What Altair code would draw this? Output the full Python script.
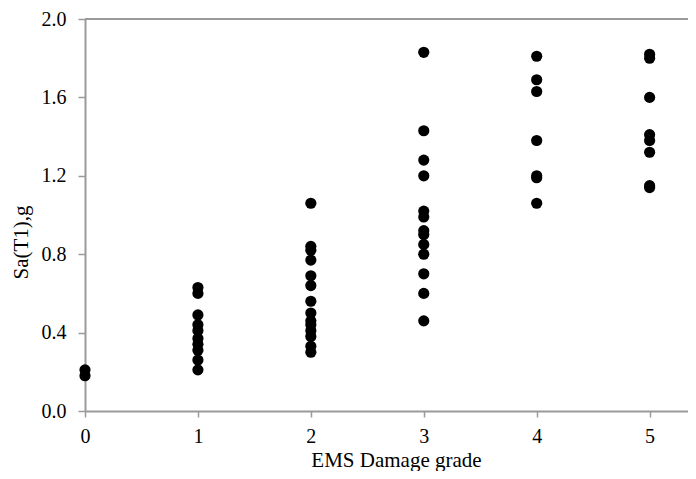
import altair as alt
import pandas as pd

grade0 = [0.21, 0.18]
grade1 = [0.63, 0.60, 0.49, 0.44, 0.41, 0.37, 0.34, 0.31, 0.26, 0.21]
grade2 = [1.06, 0.84, 0.82, 0.77, 0.69, 0.64, 0.56, 0.50, 0.46, 0.44, 0.41, 0.38, 0.33, 0.30]
grade3 = [1.83, 1.43, 1.28, 1.20, 1.02, 0.99, 0.92, 0.90, 0.85, 0.80, 0.70, 0.60, 0.46]
grade4 = [1.81, 1.69, 1.63, 1.38, 1.20, 1.19, 1.06]
grade5 = [1.82, 1.80, 1.60, 1.41, 1.38, 1.32, 1.15, 1.14]

groups = [grade0, grade1, grade2, grade3, grade4, grade5]
x_ticks = [0, 1, 2, 3, 4, 5]
y_ticks = [0.0, 0.4, 0.8, 1.2, 1.6, 2.0]

rows = []
for g, vals in zip(x_ticks, groups):
    for v in vals:
        rows.append({"grade": g, "sa": v})
df = pd.DataFrame(rows)

GRAY = "#9a9a9a"
FONT = "Liberation Serif"

x_scale = alt.Scale(domain=[0, 5.34], nice=False, zero=False)
y_scale = alt.Scale(domain=[0, 2.0], nice=False)

points = alt.Chart(df).mark_circle(size=125, color="black", opacity=1).encode(
    x=alt.X(
        "grade:Q",
        scale=x_scale,
        axis=alt.Axis(
            values=x_ticks,
            title="EMS Damage grade",
            format="d",
            grid=False,
            labelFlush=False,
            domainColor=GRAY,
            domainWidth=2,
            tickColor=GRAY,
            tickWidth=1.5,
            tickSize=6,
            labelPadding=9,
            labelFont=FONT,
            labelFontSize=20,
            labelColor="black",
            titleFont=FONT,
            titleFontSize=21,
            titleFontWeight="normal",
            titleColor="black",
            titleX=311,
            titleY=55,
            titleBaseline="alphabetic",
            titleAlign="center",
        ),
    ),
    y=alt.Y(
        "sa:Q",
        scale=y_scale,
        axis=alt.Axis(
            values=y_ticks,
            title="Sa(T1),g",
            format=".1f",
            grid=False,
            labelFlush=False,
            domainColor=GRAY,
            domainWidth=2,
            tickColor=GRAY,
            tickWidth=1.5,
            tickSize=7,
            labelPadding=12,
            labelFont=FONT,
            labelFontSize=20,
            labelColor="black",
            titleFont=FONT,
            titleFontSize=21,
            titleFontWeight="normal",
            titleColor="black",
            titleX=-64,
            titleY=223,
            titleAngle=270,
            titleBaseline="middle",
            titleAlign="center",
        ),
    ),
)

top_line = alt.Chart().mark_rule(color=GRAY, strokeWidth=2).encode(
    y=alt.Y(datum=2.0, scale=y_scale)
)

chart = (
    alt.layer(top_line, points)
    .properties(
        width=603,
        height=392,
        autosize=alt.AutoSizeParams(type="none"),
        padding={"left": 77, "top": 11, "right": 0, "bottom": 60},
    )
    .configure_view(stroke=None)
    .configure(background="white")
)

chart.save("out.html", embed_options={"renderer": "svg", "actions": False})
